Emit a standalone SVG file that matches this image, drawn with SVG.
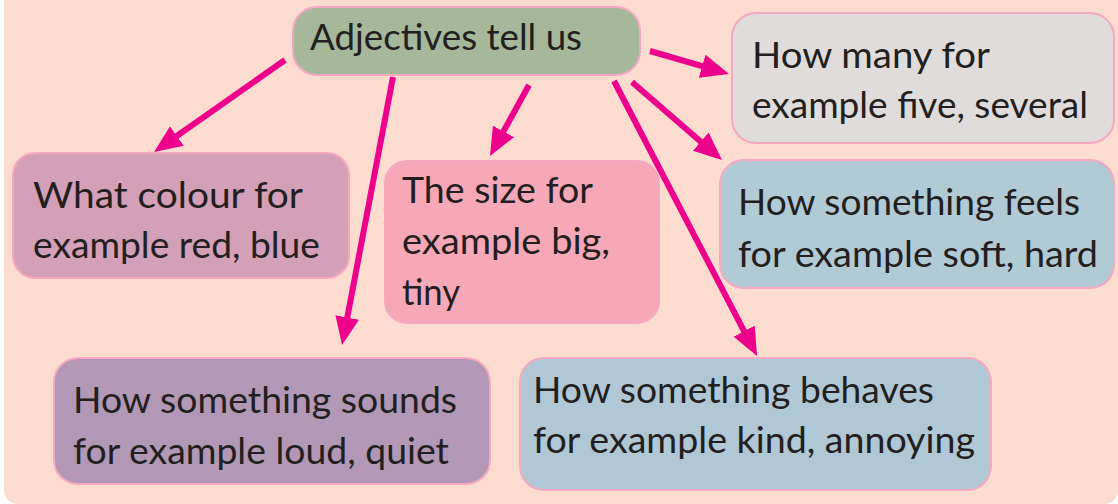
<svg xmlns="http://www.w3.org/2000/svg" width="1118" height="504" viewBox="0 0 1118 504">
<defs>
<style>
.box{stroke:#f5a9c0;stroke-width:2}
.t{font-family:"Lato","Liberation Sans",sans-serif;font-size:37px;fill:#231f20}
.arr{stroke:#ec008c;stroke-width:6;fill:none;marker-end:url(#ah)}
</style>
<marker id="ah" markerUnits="userSpaceOnUse" viewBox="0 0 28 24" markerWidth="28" markerHeight="24" refX="18" refY="12" orient="auto">
<path d="M0,0 L28,12 L0,24 z" fill="#ec008c"/>
</marker>
</defs>
<rect width="1118" height="504" fill="#ffffff"/>
<rect x="4" y="-30" width="1114" height="534" rx="14" fill="#fddcd0"/>
<g id="connectors">
<line class="arr" x1="285" y1="60" x2="162.2" y2="146.3"/>
<line class="arr" x1="529" y1="85" x2="494.8" y2="147.2"/>
<line class="arr" x1="393" y1="77" x2="343.9" y2="335.2"/>
<line class="arr" x1="650" y1="51" x2="719.4" y2="71.2"/>
<line class="arr" x1="632" y1="82" x2="714.4" y2="153.4"/>
<line class="arr" x1="614" y1="81" x2="752.4" y2="347.1"/>
</g>
<g id="center">
<rect class="box" x="293" y="7" width="347" height="68" rx="24" fill="#a6b89a"/>
<text class="t" x="310" y="50" textLength="272" lengthAdjust="spacingAndGlyphs">Adjectives tell us</text>
</g>
<g id="colour">
<rect class="box" x="13" y="153" width="336" height="125" rx="22" fill="#d4a0b7"/>
<text class="t" x="33" y="208" textLength="270" lengthAdjust="spacingAndGlyphs">What colour for</text>
<text class="t" x="33" y="258" textLength="287" lengthAdjust="spacingAndGlyphs">example red, blue</text>
</g>
<g id="size">
<rect class="box" x="385" y="161" width="274" height="162" rx="22" fill="#f7a8b8"/>
<text class="t" x="402" y="203" textLength="191" lengthAdjust="spacingAndGlyphs">The size for</text>
<text class="t" x="402" y="254" textLength="208" lengthAdjust="spacingAndGlyphs">example big,</text>
<text class="t" x="402" y="305" textLength="58" lengthAdjust="spacingAndGlyphs">tiny</text>
</g>
<g id="many">
<rect class="box" x="732" y="13" width="382" height="130" rx="24" fill="#e0dcdb"/>
<text class="t" x="752" y="68" textLength="238" lengthAdjust="spacingAndGlyphs">How many for</text>
<text class="t" x="752" y="118" textLength="336" lengthAdjust="spacingAndGlyphs">example five, several</text>
</g>
<g id="feels">
<rect class="box" x="720" y="160" width="394" height="128" rx="24" fill="#b0cad6"/>
<text class="t" x="738" y="215" textLength="342" lengthAdjust="spacingAndGlyphs">How something feels</text>
<text class="t" x="738" y="267" textLength="360" lengthAdjust="spacingAndGlyphs">for example soft, hard</text>
</g>
<g id="sounds">
<rect class="box" x="54" y="358" width="436" height="126" rx="24" fill="#b298b6"/>
<text class="t" x="73" y="413" textLength="384" lengthAdjust="spacingAndGlyphs">How something sounds</text>
<text class="t" x="73" y="464" textLength="376" lengthAdjust="spacingAndGlyphs">for example loud, quiet</text>
</g>
<g id="behaves">
<rect class="box" x="520" y="358" width="471" height="132" rx="24" fill="#b0c8d6"/>
<text class="t" x="533" y="403" textLength="401" lengthAdjust="spacingAndGlyphs">How something behaves</text>
<text class="t" x="533" y="453" textLength="442" lengthAdjust="spacingAndGlyphs">for example kind, annoying</text>
</g>
</svg>
